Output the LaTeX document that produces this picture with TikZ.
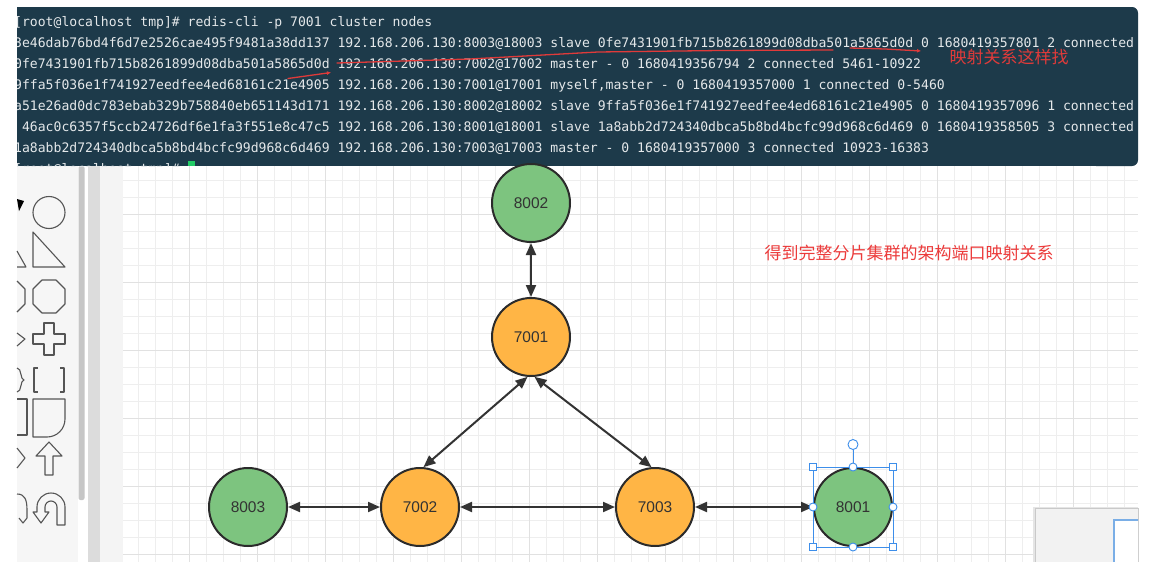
\documentclass[tikz,border=0pt]{standalone}
\usepackage{fontspec}
\setmainfont{Liberation Sans}
\newfontfamily\termfont{DejaVu Sans Mono}
\newfontfamily\cjk{Noto Sans CJK SC}
\usetikzlibrary{arrows.meta}
\definecolor{termbg}{HTML}{1D3A4A}
\definecolor{termfg}{HTML}{E4E8EA}
\definecolor{annored}{HTML}{E03A3A}
\definecolor{titlered}{HTML}{EC3B3B}
\definecolor{slavegreen}{HTML}{7DC47F}
\definecolor{masterorange}{HTML}{FFB545}
\definecolor{edgegray}{HTML}{333333}
\definecolor{gridminor}{HTML}{EEEEEE}
\definecolor{gridmajor}{HTML}{E1E1E1}
\definecolor{panelbg}{HTML}{F6F6F6}
\definecolor{scrollbar}{HTML}{C6C6C6}
\definecolor{divider}{HTML}{DCDCDC}
\definecolor{gutter}{HTML}{F4F4F4}
\definecolor{selblue}{HTML}{3D8EEA}
\definecolor{paltext}{HTML}{555555}
\definecolor{cursorgreen}{HTML}{22CC66}
\definecolor{minibg}{HTML}{F2F2F2}
\definecolor{miniborder}{HTML}{C9C9C9}
\definecolor{miniblue}{HTML}{7AAEE6}
\begin{document}
\begin{tikzpicture}[x=1pt,y=-1pt,
  slave/.style={circle, draw=edgegray!85!black, line width=2pt, fill=slavegreen, minimum size=78pt, inner sep=0pt, font=\fontsize{15.5}{18}\selectfont, text=edgegray},
  master/.style={slave, fill=masterorange},
  link/.style={line width=2pt, draw=edgegray, arrows={Triangle[length=12pt,width=10pt]-Triangle[length=12pt,width=10pt]}},
  termline/.style={anchor=base west, inner sep=0pt, text=termfg, font=\termfont\fontsize{13.1}{15}\selectfont},
  pal/.style={draw=paltext, line width=1.1pt, line join=round},
  selbox/.style={draw=selblue, line width=0.9pt},
  selsq/.style={rectangle, draw=selblue, fill=white, line width=0.9pt, minimum size=7pt, inner sep=0pt},
  seldot/.style={circle, draw=selblue, fill=white, line width=0.9pt, minimum size=8pt, inner sep=0pt},
  redmark/.style={draw=annored, line width=1.3pt, line cap=round, line join=round}]
\useasboundingbox (0,0) rectangle (1151,562);
\fill[white] (0,0) rectangle (1151,562);

% ---------- sidebar ----------
\fill[panelbg] (17,166) rectangle (78,562);
\fill[scrollbar, rounded corners=2pt] (78.5,166) rectangle (84.5,500);
\fill[divider] (88,166) rectangle (100,562);
\fill[gutter] (100,166) rectangle (123,562);

\fill[black] (17,199) -- (24,201) -- (19,211) -- cycle;
\draw[pal] (49,212.5) circle (16);
\draw[pal] (17,251) -- (26,267) -- (17,267);
\draw[pal] (33,232) -- (33,267) -- (65,267) -- cycle;
\draw[pal] (17,281) -- (25,289) -- (25,304) -- (17,312);
\draw[pal] (42,280) -- (56,280) -- (65,289) -- (65,304) -- (56,313) -- (42,313) -- (33,304) -- (33,289) -- cycle;
\draw[pal] (17,333) -- (25,339) -- (17,346);
\draw[pal] (44,323) -- (54,323) -- (54,334) -- (65,334) -- (65,344) -- (54,344) -- (54,355) -- (44,355) -- (44,344) -- (33,344) -- (33,334) -- (44,334) -- cycle;
\draw[pal] (17,368) .. controls (22,368) and (20,380) .. (24,380) .. controls (20,380) and (22,392) .. (17,392);
\draw[pal] (38,368) -- (34,368) -- (34,392) -- (38,392);
\draw[pal] (60,368) -- (64,368) -- (64,392) -- (60,392);
\draw[pal] (17,399) -- (27,399) -- (27,435) -- (17,435);
\draw[pal] (33,399) -- (65,399) -- (65,419) .. controls (65,429) and (57,437) .. (47,437) -- (33,437) -- cycle;
\draw[pal] (17,448) -- (25,458) -- (17,468);
\draw[pal] (49,442) -- (62,456) -- (53,456) -- (53,475) -- (45,475) -- (45,456) -- (36,456) -- cycle;
\draw[pal] (17,494) .. controls (25,494) and (27,500) .. (27,510) -- (27,518) -- (23,523) -- (19,518);
\draw[pal] (65,525) -- (65,507) arc[start angle=0, end angle=-180, radius=14] -- (37,512) -- (33,512) -- (41,523) -- (49,512) -- (45,512) -- (45,507) arc[start angle=180, end angle=360, radius=6] -- (57,525) -- cycle;

% ---------- grid canvas ----------
\begin{scope}
  \clip (123,166) rectangle (1138,562);
  \foreach \i in {0,...,60} \draw[gridminor, line width=1pt] ({121+17*\i},166) -- ({121+17*\i},562);
  \foreach \j in {0,...,24} \draw[gridminor, line width=1pt] (123,{163+17*\j}) -- (1138,{163+17*\j});
  \foreach \i in {0,...,15} \draw[gridmajor, line width=1pt] ({121+68*\i},166) -- ({121+68*\i},562);
  \foreach \j in {0,...,5} \draw[gridmajor, line width=1pt] (123,{214+68*\j}) -- (1138,{214+68*\j});
\end{scope}

% ---------- minimap panel ----------
\fill[black!10] (1033,507) rectangle (1138,562);
\filldraw[fill=minibg, draw=miniborder, line width=1pt] (1035,508.5) rectangle (1138,563);
\begin{scope}
  \clip (1035,508) rectangle (1138,562);
  \filldraw[fill=white, draw=miniblue, line width=2pt] (1114,519.5) rectangle (1150,570);
\end{scope}

% ---------- terminal ----------
\fill[termbg] (17,7) rectangle (1120,166);
\fill[termbg, rounded corners=6pt] (1090,7) rectangle (1138,166);
\begin{scope}
  \clip (17,7) rectangle (1138,166);
  \node[termline] (t1) at (14,26) {[root@localhost tmp]\# redis-cli -p 7001 cluster nodes};
  \node[termline] (t2) at (14,47) {3e46dab76bd4f6d7e2526cae495f9481a38dd137 192.168.206.130:8003@18003 slave 0fe7431901fb715b8261899d08dba501a5865d0d 0 1680419357801 2 connected};
  \node[termline] (t3) at (14,68) {0fe7431901fb715b8261899d08dba501a5865d0d 192.168.206.130:7002@17002 master - 0 1680419356794 2 connected 5461-10922};
  \node[termline] (t4) at (14,89) {9ffa5f036e1f741927eedfee4ed68161c21e4905 192.168.206.130:7001@17001 myself,master - 0 1680419357000 1 connected 0-5460};
  \node[termline] (t5) at (14,110) {a51e26ad0dc783ebab329b758840eb651143d171 192.168.206.130:8002@18002 slave 9ffa5f036e1f741927eedfee4ed68161c21e4905 0 1680419357096 1 connected};
  \node[termline] (t6) at (14,131) {\phantom{0}46ac0c6357f5ccb24726df6e1fa3f551e8c47c5 192.168.206.130:8001@18001 slave 1a8abb2d724340dbca5b8bd4bcfc99d968c6d469 0 1680419358505 3 connected};
  \node[termline] (t7) at (14,152) {1a8abb2d724340dbca5b8bd4bcfc99d968c6d469 192.168.206.130:7003@17003 master - 0 1680419357000 3 connected 10923-16383};
  \node[termline] (t8) at (14,173) {[root@localhost tmp]\#};
  \fill[cursorgreen] (188,161) rectangle (195,166);
\end{scope}

% red annotations in terminal
\draw[redmark] (337,63) -- (470,59) -- (598,52) -- (720,50.5) -- (833,50);
\draw[redmark, -{Latex[length=4pt,width=4pt]}] (850,48) -- (885,49) -- (921,51);
\draw[redmark, -{Latex[length=4pt,width=4pt]}] (288,78.5) -- (331,72.5);
\node[font=\cjk\fontsize{17}{17}\selectfont, text=annored, inner sep=0pt] (note) at (1009,57) {映射关系这样找};

% ---------- diagram ----------
\node[font=\cjk\fontsize{17}{17}\selectfont, text=titlered, inner sep=0pt] (title) at (909,253) {得到完整分片集群的架构端口映射关系};

\node[slave]  (n8002) at (531,203) {8002};
\node[master] (n7001) at (531,337) {7001};
\node[slave]  (n8003) at (248,507) {8003};
\node[master] (n7002) at (420,507) {7002};
\node[master] (n7003) at (655,507) {7003};
\node[slave]  (n8001) at (853,507) {8001};

\draw[link] (n8002) -- (n7001);
\draw[link] (n7001.265) -- (n7002.85);
\draw[link] (n7001.275) -- (n7003.95);
\draw[link] (n8003) -- (n7002);
\draw[link] (n7002) -- (n7003);
\draw[link] (n7003) -- (n8001);

% selection handles on 8001
\draw[selbox] (813,467) rectangle (893,547);
\draw[selbox] (853,449) -- (853,467);
\node[seldot, minimum size=10pt] (rot) at (853,444.5) {};
\node[selsq] (hNW) at (813,467) {};
\node[selsq] (hNE) at (893,467) {};
\node[selsq] (hSW) at (813,547) {};
\node[selsq] (hSE) at (893,547) {};
\node[seldot] (hN) at (853,467) {};
\node[seldot] (hS) at (853,547) {};
\node[seldot] (hW) at (813,507) {};
\node[seldot] (hE) at (893,507) {};
\end{tikzpicture}
\end{document}
